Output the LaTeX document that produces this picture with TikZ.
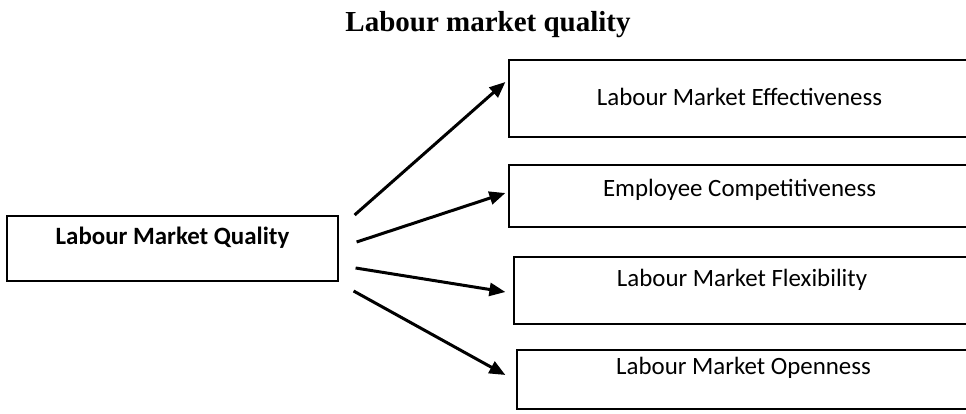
\documentclass[tikz,border=0pt]{standalone}
\usepackage{fontspec}
\setmainfont{Carlito}
\newfontfamily\titlefont{Liberation Serif}
\usetikzlibrary{arrows.meta}

\begin{document}
\begin{tikzpicture}[x = 1pt, y = 1pt, font = \fontsize{24.9}{30}\selectfont,
    box/.style = {draw, line width = 1.2pt, inner sep = 0pt},
    link/.style = {line width = 3pt, -{Triangle[length = 16pt, width = 13pt]}}]
  \useasboundingbox (0, 0) rectangle (966, 413);
  \node [anchor = base, font = \titlefont\bfseries\fontsize{29}{34}\selectfont] (title) at (488, 381) {Labour market quality};
  \node [box, minimum width = 331pt, minimum height = 65pt,
    label = {[yshift = 10.5pt, font = \fontsize{24.9}{30}\selectfont\bfseries]center:Labour Market Quality}] (quality) at (172.5, 164.5) {};
  \node [box, minimum width = 461pt, minimum height = 77pt,
    label = {[yshift = 1.5pt]center:Labour Market Effectiveness}] (effect) at (739.5, 314.5) {};
  \node [box, minimum width = 461pt, minimum height = 62pt,
    label = {[yshift = 6pt]center:Employee Competitiveness}] (compet) at (739.5, 217) {};
  \node [box, minimum width = 456pt, minimum height = 67pt,
    label = {[yshift = 10.5pt]center:Labour Market Flexibility}] (flex) at (742, 122.5) {};
  \node [box, minimum width = 453pt, minimum height = 59pt,
    label = {[yshift = 11.5pt]center:Labour Market Openness}] (open) at (743.5, 33.5) {};
  \draw [link] ([shift = {(16pt, 33.5pt)}]quality.east) -- ([shift = {(-3pt, 16.5pt)}]effect.west);
  \draw [link] ([shift = {(18pt, 6.5pt)}]quality.east) -- ([shift = {(-3pt, 3pt)}]compet.west);
  \draw [link] ([shift = {(17pt, -19.5pt)}]quality.east) -- ([shift = {(-8pt, -1.5pt)}]flex.west);
  \draw [link] ([shift = {(15pt, -42.5pt)}]quality.east) -- ([shift = {(-11pt, 4.5pt)}]open.west);
\end{tikzpicture}
\end{document}
